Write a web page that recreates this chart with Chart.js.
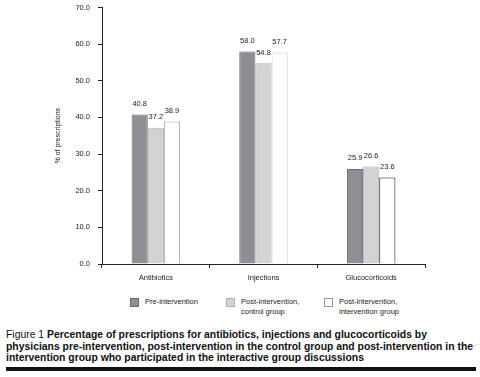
<!DOCTYPE html>
<html>
<head>
<meta charset="utf-8">
<script src="https://cdn.jsdelivr.net/npm/chart.js@4"></script>
<style>
  body { margin: 0; background: #fff; font-family: "Liberation Sans", Arial, sans-serif; overflow: hidden; }
  #wrap { position: relative; width: 480px; height: 377px; overflow: hidden; }
  #chartBox { position: absolute; left: 0; top: -5px; width: 480px; height: 292px; }
  .leg { position: absolute; top: 297px; font-size: 7.5px; line-height: 10px; color: #222; }
  .leg i { position: absolute; left: 0; top: 1px; width: 9px; height: 9px; }
  .leg span { position: absolute; left: 15px; top: 0; white-space: nowrap; }
  #caption { position: absolute; left: 6px; top: 329px; width: 474px; font-size: 10.4px; line-height: 11.5px; color: #111; white-space: nowrap; }
  #caption b { font-weight: bold; }
  #rule { position: absolute; left: 6px; top: 367px; width: 470px; height: 4px; background: #111; }
</style>
</head>
<body>
<div id="wrap">
  <div id="chartBox"><canvas id="mainChart" width="480" height="292"></canvas></div>
  <div class="leg" style="left:130px"><i style="background:#8e8f94;border:1px solid #6b6c70;box-sizing:border-box"></i><span>Pre-intervention</span></div>
  <div class="leg" style="left:226px"><i style="background:#d2d3d5;border:1px solid #b0b1b3;box-sizing:border-box"></i><span>Post-intervention,<br>control group</span></div>
  <div class="leg" style="left:324px"><i style="background:#fff;border:1px solid #999;box-sizing:border-box"></i><span>Post-intervention,<br>intervention group</span></div>
  <div id="caption">Figure 1 <b>Percentage of prescriptions for antibiotics, injections and glucocorticoids by<br>physicians pre-intervention, post-intervention in the control group and post-intervention in the<br>intervention group who participated in the interactive group discussions</b></div>
  <div id="rule"></div>
</div>
<script>
const categories = ["Antibiotics", "Injections", "Glucocorticoids"];
const preIntervention = [40.8, 58.0, 25.9];
const postControl = [37.2, 54.8, 26.6];
const postIntervention = [38.9, 57.7, 23.6];

const FONT = "'Liberation Sans', Arial, sans-serif";
const ctx = document.getElementById("mainChart").getContext("2d");

// values printed above each bar
const valueLabels = {
  id: "valueLabels",
  afterDatasetsDraw(chart) {
    const c = chart.ctx;
    c.save();
    c.font = "7.5px " + FONT;
    c.fillStyle = "#222";
    c.textAlign = "center";
    c.textBaseline = "bottom";
    chart.data.datasets.forEach((ds, i) => {
      chart.getDatasetMeta(i).data.forEach((bar, j) => {
        c.fillText(ds.data[j].toFixed(1), bar.x, bar.y - 7);
      });
    });
    c.restore();
  }
};

new Chart(ctx, {
  type: "bar",
  data: {
    labels: categories,
    datasets: [
      { label: "Pre-intervention", data: preIntervention, backgroundColor: "#8e8f94", borderColor: "#6b6c70", borderWidth: 1 },
      { label: "Post-intervention, control group", data: postControl, backgroundColor: "#d2d3d5", borderColor: "#b0b1b3", borderWidth: 1 },
      { label: "Post-intervention, intervention group", data: postIntervention, backgroundColor: "#ffffff", borderColor: ["#aaaaaa", "#cccccc", "#111111"], borderWidth: 1 }
    ]
  },
  options: {
    responsive: false,
    animation: false,
    layout: { padding: { left: 50, right: 55, top: 4, bottom: 0 } },
    datasets: { bar: { categoryPercentage: 0.45, barPercentage: 1 } },
    scales: {
      x: {
        grid: { drawOnChartArea: false, offset: true, tickLength: 4, color: "#222" },
        border: { color: "#222" },
        ticks: { color: "#222", font: { size: 7.5, family: FONT }, padding: 5 }
      },
      y: {
        min: 0, max: 70,
        afterFit(scale) { scale.width = 52; },
        grid: { drawOnChartArea: false, tickLength: 4, color: "#222" },
        border: { color: "#222" },
        ticks: { stepSize: 10, color: "#222", padding: 8, font: { size: 7.5, family: FONT }, callback: v => v.toFixed(1) },
        title: { display: true, text: "% of prescriptions", color: "#222", font: { size: 7, family: FONT }, padding: 4 }
      }
    },
    plugins: { legend: { display: false }, tooltip: { enabled: false } }
  },
  plugins: [valueLabels]
});
</script>
</body>
</html>
